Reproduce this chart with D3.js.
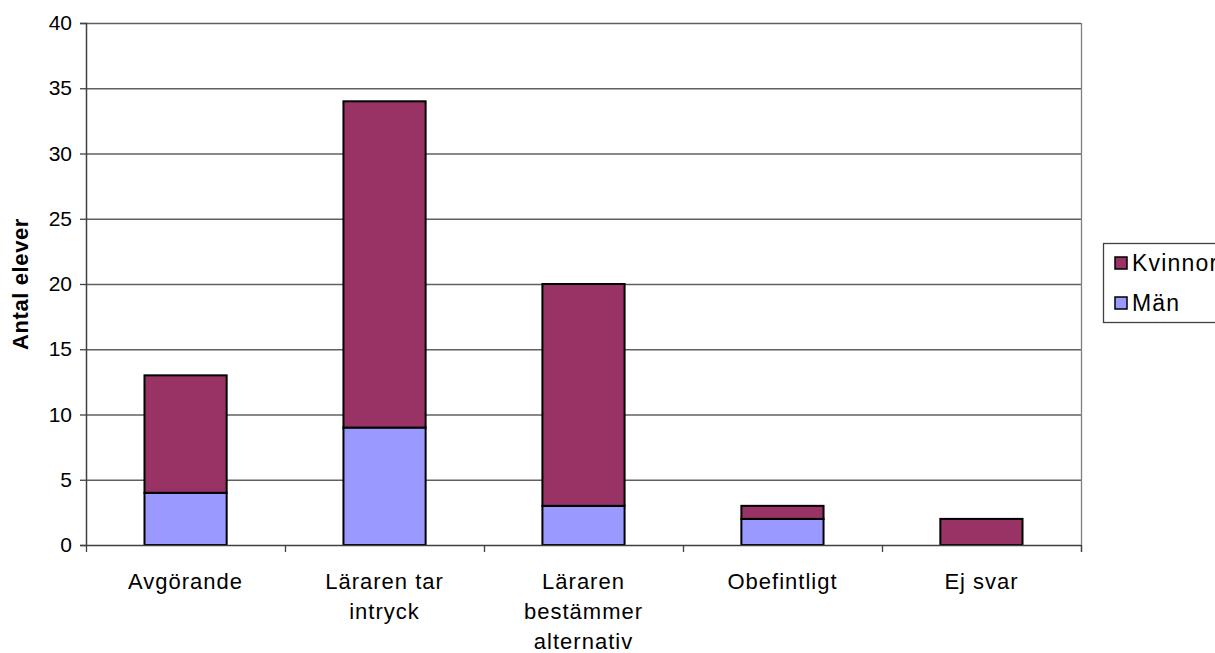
<!DOCTYPE html>
<html>
<head>
<meta charset="utf-8">
<script src="https://cdn.jsdelivr.net/npm/d3@7"></script>
<style>
  html, body { margin: 0; padding: 0; background: #fff; overflow: hidden; }
  svg { display: block; font-family: "Liberation Sans", Arial, sans-serif; }
</style>
</head>
<body>
<svg id="chart" width="1215" height="653"></svg>
<script>
const categories = [["Avgörande"], ["Läraren tar", "intryck"], ["Läraren", "bestämmer", "alternativ"], ["Obefintligt"], ["Ej svar"]];
const categoryKeys = ["Avgörande", "Läraren tar intryck", "Läraren bestämmer alternativ", "Obefintligt", "Ej svar"];
const man = [4, 9, 3, 2, 0];
const kvinnor = [9, 25, 17, 1, 2];
const seriesNames = ["Män", "Kvinnor"];
const seriesColors = ["#9999ff", "#993366"];
const yTicks = [0, 5, 10, 15, 20, 25, 30, 35, 40];
const yTitle = "Antal elever";

const svg = d3.select("#chart");
const mLeft = 86, mRight = 1081, mTop = 23, mBottom = 545;

const x = d3.scaleBand().domain(categoryKeys).range([mLeft, mRight]).paddingInner(0.587).paddingOuter(0.294);
const xb = d3.scaleBand().domain(categoryKeys).range([mLeft, mRight]);
const y = d3.scaleLinear().domain([0, 40]).range([mBottom, mTop]);

// gridlines
svg.append("g").selectAll("line").data(yTicks.filter(d => d > 0)).join("line")
  .attr("x1", mLeft).attr("x2", mRight)
  .attr("y1", d => y(d) + 0.5).attr("y2", d => y(d) + 0.5)
  .attr("stroke", "#606060").attr("stroke-width", 1.3);

// right border
svg.append("line").attr("x1", mRight + 0.5).attr("x2", mRight + 0.5).attr("y1", mTop).attr("y2", mBottom + 7)
  .attr("stroke", "#808080").attr("stroke-width", 1.3);

// stacked bars
const rows = categoryKeys.map((k, i) => ({ key: k, "Män": man[i], "Kvinnor": kvinnor[i] }));
const stack = d3.stack().keys(seriesNames)(rows);
svg.append("g").selectAll("g").data(stack).join("g")
  .attr("fill", (d, i) => seriesColors[i])
  .selectAll("rect").data(d => d.filter(s => s[1] - s[0] > 0)).join("rect")
  .attr("x", d => x(d.data.key))
  .attr("width", x.bandwidth())
  .attr("y", d => y(d[1]))
  .attr("height", d => y(d[0]) - y(d[1]))
  .attr("stroke", "#000").attr("stroke-width", 2);

// y axis
const yAxis = d3.axisLeft(y).tickValues(yTicks).tickSize(6).tickPadding(8).tickFormat(d3.format("d"));
const ya = svg.append("g").attr("transform", `translate(${mLeft},0)`).call(yAxis);
ya.select(".domain").attr("stroke", "#404040").attr("stroke-width", 1.5);
ya.selectAll(".tick line").attr("stroke", "#404040").attr("stroke-width", 1.3);
ya.selectAll(".tick text").attr("font-size", 21).attr("fill", "#000").attr("font-family", "Liberation Sans, Arial, sans-serif");

// x axis line and ticks at band boundaries
svg.append("line").attr("x1", mLeft).attr("x2", mRight).attr("y1", mBottom + 0.5).attr("y2", mBottom + 0.5)
  .attr("stroke", "#404040").attr("stroke-width", 1.5);
const bounds = categoryKeys.map(k => xb(k)).concat([mRight]);
svg.append("g").selectAll("line").data(bounds).join("line")
  .attr("x1", d => d + 0.5).attr("x2", d => d + 0.5).attr("y1", mBottom).attr("y2", mBottom + 7)
  .attr("stroke", "#404040").attr("stroke-width", 1.3);

// category labels
const lab = svg.append("g").selectAll("text").data(categories).join("text")
  .attr("text-anchor", "middle")
  .attr("font-size", 22)
  .attr("letter-spacing", 1)
  .attr("fill", "#000")
  .attr("transform", (d, i) => `translate(${xb(categoryKeys[i]) + xb.bandwidth() / 2},589)`);
lab.selectAll("tspan").data(d => d).join("tspan")
  .attr("x", 0).attr("y", (d, i) => i * 30).text(d => d);

// y title
svg.append("text").attr("transform", `translate(28,284) rotate(-90)`)
  .attr("text-anchor", "middle").attr("font-size", 22).attr("font-weight", "bold")
  .attr("letter-spacing", 0.6).attr("fill", "#000")
  .text(yTitle);

// legend
const lg = svg.append("g");
lg.append("rect").attr("x", 1103.5).attr("y", 243.5).attr("width", 130).attr("height", 79)
  .attr("fill", "#fff").attr("stroke", "#404040").attr("stroke-width", 1.3);
const legendItems = [{ name: "Kvinnor", color: seriesColors[1] }, { name: "Män", color: seriesColors[0] }];
legendItems.forEach((it, i) => {
  const yy = 257 + i * 40;
  lg.append("rect").attr("x", 1115).attr("y", yy).attr("width", 12).attr("height", 12)
    .attr("fill", it.color).attr("stroke", "#000").attr("stroke-width", 1.5);
  lg.append("text").attr("x", 1132).attr("y", yy + 14).attr("font-size", 23)
    .attr("letter-spacing", 1.2).attr("fill", "#000").text(it.name);
});
</script>
</body>
</html>
